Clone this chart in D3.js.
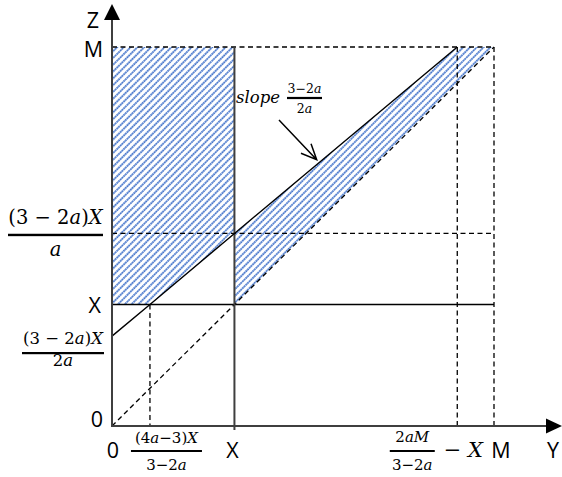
<!DOCTYPE html>
<html>
<head>
<meta charset="utf-8">
<script src="https://cdn.jsdelivr.net/npm/d3@7"></script>
<style>
  html, body { margin: 0; padding: 0; background: #fff; }
  svg { display: block; }
</style>
</head>
<body>
<svg id="chart" width="562" height="477"></svg>
<script>
// Feasible-region diagram in the (Y, Z) plane, all values in units of X.
const M = 3.12;          // upper bound M
const X = 1;             // the level X
const zLow = 0.74;       // (3−2a)X / 2a  — intercept of the boundary line
const zHigh = 1.585;     // (3−2a)X / a   — boundary line at Y = X
const yCross = 0.31;     // (4a−3)X / (3−2a) — boundary line meets Z = X
const yTop = 2.82;       // 2aM/(3−2a) − X — boundary line meets Z = M

// Boundary line with slope (3−2a)/2a, and the diagonal Z = Y
const boundaryLine = [[0, zLow], [yCross, X], [X, zHigh], [yTop, M]];
const diagonalLine = [[0, 0], [M, M]];

// Shaded regions
const leftRegion = [[0, M], [X, M], [X, zHigh], [yCross, X], [0, X]];
const rightRegion = [[X, zHigh], [yTop, M], [M, M], [X, X]];

// Reference lines: [y1, z1, y2, z2]
const dashedGuides = [
  [0, M, M, M],
  [0, zHigh, M, zHigh],
  [yCross, X, yCross, 0],
  [yTop, M, yTop, 0],
  [M, M, M, 0]
];

const svg = d3.select("#chart");
const x = d3.scaleLinear().domain([0, M]).range([112, 494]);
const z = d3.scaleLinear().domain([0, M]).range([426, 47]);

const mathFont = "'DejaVu Serif', 'Liberation Serif', serif";
const sansFont = "'Open Sans', 'Liberation Sans', sans-serif";

// Hatch fill: dotted blue upward diagonals
const defs = svg.append("defs");
const pat = defs.append("pattern")
  .attr("id", "hatch")
  .attr("patternUnits", "userSpaceOnUse")
  .attr("width", 4.8).attr("height", 4.8)
  .attr("patternTransform", "rotate(45)");
pat.append("rect").attr("width", 4.8).attr("height", 4.8).attr("fill", "#fff");
pat.append("line")
  .attr("x1", 1).attr("y1", 0).attr("x2", 1).attr("y2", 4.8)
  .attr("stroke", "#b3c8ee").attr("stroke-width", 1.8);
pat.append("line")
  .attr("x1", 1).attr("y1", 0).attr("x2", 1).attr("y2", 4.8)
  .attr("stroke", "#4272c8").attr("stroke-width", 1.8)
  .attr("stroke-dasharray", "1.4 1");

const line = d3.line().x(d => x(d[0])).y(d => z(d[1]));

[leftRegion, rightRegion].forEach(r => {
  svg.append("path")
    .attr("d", line(r) + "Z")
    .attr("fill", "url(#hatch)")
    .attr("stroke", "none");
});

// Dashed guides
svg.append("g").selectAll("line").data(dashedGuides).join("line")
  .attr("x1", d => x(d[0])).attr("y1", d => z(d[1]))
  .attr("x2", d => x(d[2])).attr("y2", d => z(d[3]))
  .attr("stroke", "#000").attr("stroke-width", 1.3)
  .attr("stroke-dasharray", "5 3.5");

svg.append("path")
  .attr("d", line(diagonalLine))
  .attr("fill", "none").attr("stroke", "#000").attr("stroke-width", 1.3)
  .attr("stroke-dasharray", "5 3.5");

// Solid level Z = X and the vertical Y = X
svg.append("line")
  .attr("x1", x(0)).attr("y1", z(X)).attr("x2", x(M)).attr("y2", z(X))
  .attr("stroke", "#000").attr("stroke-width", 1.5);
svg.append("line")
  .attr("x1", x(X)).attr("y1", z(M)).attr("x2", x(X)).attr("y2", z(0) + 4)
  .attr("stroke", "#3f3f3f").attr("stroke-width", 2);

// Boundary line
svg.append("path")
  .attr("d", line(boundaryLine))
  .attr("fill", "none").attr("stroke", "#000").attr("stroke-width", 1.4);

// Axes with arrowheads
const axisColor = "#3f3f3f";
svg.append("line")
  .attr("x1", x(0)).attr("y1", z(0) + 1).attr("x2", x(0)).attr("y2", 18)
  .attr("stroke", axisColor).attr("stroke-width", 2);
svg.append("line")
  .attr("x1", x(0) - 1).attr("y1", z(0)).attr("x2", 549).attr("y2", z(0))
  .attr("stroke", axisColor).attr("stroke-width", 2);
svg.append("path")
  .attr("d", `M${x(0) - 8},20 L${x(0)},4 L${x(0) + 8},20 Z`)
  .attr("fill", "#000");
svg.append("path")
  .attr("d", `M546,${z(0) - 7.5} L562,${z(0)} L546,${z(0) + 7.5} Z`)
  .attr("fill", "#000");

// Text helpers: "{...}" marks italic runs
function richText(g, str, px, py, size, anchor) {
  const t = g.append("text")
    .attr("x", px).attr("y", py)
    .attr("font-family", mathFont)
    .attr("font-size", size)
    .attr("text-anchor", anchor || "middle")
    .attr("fill", "#000");
  str.split(/(\{[^}]*\})/).filter(s => s.length).forEach(s => {
    const it = s.startsWith("{");
    t.append("tspan")
      .attr("font-style", it ? "italic" : "normal")
      .text(it ? s.slice(1, -1) : s);
  });
  return t;
}
function fraction(num, den, cx, barY, barW, numSize, denSize, numGap, denGap, barH) {
  const g = svg.append("g");
  richText(g, num, cx, barY - numGap, numSize);
  richText(g, den, cx, barY + denGap, denSize);
  g.append("rect")
    .attr("x", cx - barW / 2).attr("y", barY - barH / 2)
    .attr("width", barW).attr("height", barH)
    .attr("fill", "#000");
  return g;
}
function sansLabel(str, px, py, anchor) {
  svg.append("text")
    .attr("x", px).attr("y", py)
    .attr("font-family", sansFont)
    .attr("font-size", 21.5)
    .attr("text-anchor", anchor || "middle")
    .attr("fill", "#000")
    .text(str);
}

// Z-axis labels
sansLabel("Z", x(0) - 19, 28);
sansLabel("M", x(0) - 9, z(M) + 10, "end");
sansLabel("X", x(0) - 11, z(X) + 8, "end");
sansLabel("0", x(0) - 9, z(0) + 1, "end");
fraction("(3 − 2{a}){X}", "{a}", 55.5, z(zHigh) + 1.5, 95, 19.5, 19.5, 11, 21, 2.4);
fraction("(3 − 2{a}){X}", "2{a}", 63, z(zLow) + 17, 82, 16.5, 16.5, 9, 13, 2.2);

// Y-axis labels
const baseY = z(0) + 32;
sansLabel("0", x(0) + 1, baseY);
fraction("(4{a}−3){X}", "3−2{a}", x(yCross) + 16.5, z(0) + 25, 71, 15, 15, 8, 19, 2);
sansLabel("X", x(X) - 2, baseY);
fraction("2{a}{M}", "3−2{a}", x(yTop) - 45, z(0) + 25, 45, 15, 15, 9, 19, 2);
richText(svg, "− {X}", x(yTop) + 6, baseY - 1, 21);
sansLabel("M", x(M) + 7, baseY);
sansLabel("Y", 553, baseY);

// Slope annotation
richText(svg, "{slope}", 236, 103, 16.5, "start");
fraction("3−2{a}", "2{a}", 304.5, 98, 35, 12.5, 12.5, 5, 15, 2.2);

// Arrow to the boundary line
const tipY = 1.68;
const tip = [x(tipY) - 1, z(zLow + (zHigh - zLow) * tipY) - 4];
const tail = [279, 120];
const ang = Math.atan2(tip[1] - tail[1], tip[0] - tail[0]);
const headLen = 17, spread = 0.42;
svg.append("path")
  .attr("d", `M${tail[0]},${tail[1]} L${tip[0]},${tip[1]}` +
    ` M${tip[0] - headLen * Math.cos(ang - spread)},${tip[1] - headLen * Math.sin(ang - spread)}` +
    ` L${tip[0]},${tip[1]}` +
    ` L${tip[0] - headLen * Math.cos(ang + spread)},${tip[1] - headLen * Math.sin(ang + spread)}`)
  .attr("fill", "none").attr("stroke", "#000").attr("stroke-width", 1.5);
</script>
</body>
</html>
